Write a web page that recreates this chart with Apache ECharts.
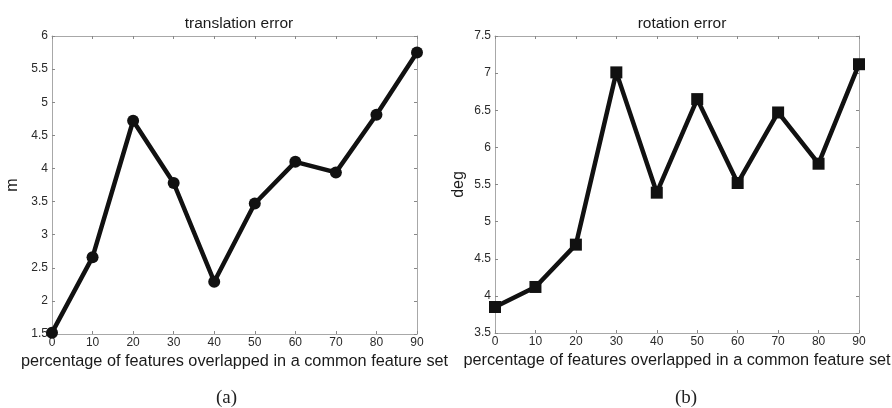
<!DOCTYPE html>
<html>
<head>
<meta charset="utf-8">
<script src="https://cdn.jsdelivr.net/npm/echarts@6/dist/echarts.min.js"></script>
<style>
  html, body { margin: 0; padding: 0; background: #fff; }
  #chart { width: 892px; height: 408px; }
</style>
</head>
<body>
<div id="chart"></div>
<script>
// Overlap percentage (x) shared by both panels
const overlapPct = [0, 10, 20, 30, 40, 50, 60, 70, 80, 90];
// Panel (a): translation error in metres
const translationError = [1.52, 2.66, 4.72, 3.78, 2.29, 3.47, 4.10, 3.94, 4.81, 5.75];
// Panel (b): rotation error in degrees
const rotationError = [3.85, 4.12, 4.69, 7.01, 5.39, 6.65, 5.52, 6.47, 5.78, 7.12];

const panelTitles = ['translation error', 'rotation error'];
const yNames = ['m', 'deg'];
const xName = 'percentage of features overlapped in a common feature set';
const panelTags = ['(a)', '(b)'];

const boxColor = '#a8a8a8';
const labelColor = '#2a2a2a';
const sans = 'Liberation Sans, Arial, sans-serif';

const grids = [
  { left: 52, top: 36, width: 365, height: 298, outerBoundsMode: 'none', containLabel: false },
  { left: 495, top: 36, width: 364, height: 297, outerBoundsMode: 'none', containLabel: false }
];
const yRanges = [
  { min: 1.5, max: 6, interval: 0.5 },
  { min: 3.5, max: 7.5, interval: 0.5 }
];

function xAxes(gi) {
  const base = {
    type: 'value', gridIndex: gi, min: 0, max: 90, interval: 10,
    axisLine: { show: true, onZero: false, lineStyle: { color: boxColor, width: 1 } },
    axisTick: { show: true, inside: true, length: 3, lineStyle: { color: '#888' } },
    splitLine: { show: false }
  };
  return [
    Object.assign({}, base, {
      position: 'bottom',
      axisLabel: { show: true, color: labelColor, fontSize: 12, fontFamily: sans, margin: 3 },
      name: xName, nameLocation: 'middle', nameGap: 19,
      nameTextStyle: { color: '#1a1a1a', fontSize: 16.3, fontFamily: sans }
    }),
    Object.assign({}, base, { position: 'top', axisLabel: { show: false } })
  ];
}

function yAxes(gi) {
  const r = yRanges[gi];
  const base = {
    type: 'value', gridIndex: gi, min: r.min, max: r.max, interval: r.interval,
    axisLine: { show: true, onZero: false, lineStyle: { color: boxColor, width: 1 } },
    axisTick: { show: true, inside: true, length: 3, lineStyle: { color: '#888' } },
    splitLine: { show: false }
  };
  return [
    Object.assign({}, base, {
      position: 'left',
      axisLabel: { show: true, color: labelColor, fontSize: 12, fontFamily: sans, margin: 4 },
      name: yNames[gi], nameLocation: 'middle', nameGap: gi === 0 ? 31 : 28,
      nameTextStyle: { color: '#1a1a1a', fontSize: 16, fontFamily: sans }
    }),
    Object.assign({}, base, { position: 'right', axisLabel: { show: false } })
  ];
}

const option = {
  animation: false,
  backgroundColor: '#fff',
  title: [
    { text: panelTitles[0], left: 234, top: 11, textAlign: 'center',
      textStyle: { fontSize: 15.5, fontWeight: 'normal', color: '#1a1a1a', fontFamily: sans } },
    { text: panelTitles[1], left: 677, top: 11, textAlign: 'center',
      textStyle: { fontSize: 15.5, fontWeight: 'normal', color: '#1a1a1a', fontFamily: sans } }
  ],
  grid: grids,
  xAxis: [...xAxes(0), ...xAxes(1)],
  yAxis: [...yAxes(0), ...yAxes(1)],
  series: [
    {
      type: 'line', xAxisIndex: 0, yAxisIndex: 0,
      data: overlapPct.map((x, i) => [x, translationError[i]]),
      symbol: 'circle', symbolSize: 12,
      lineStyle: { color: '#111', width: 4.5 },
      itemStyle: { color: '#111' }
    },
    {
      type: 'line', xAxisIndex: 2, yAxisIndex: 2,
      data: overlapPct.map((x, i) => [x, rotationError[i]]),
      symbol: 'rect', symbolSize: 12,
      lineStyle: { color: '#111', width: 4.5 },
      itemStyle: { color: '#111' }
    }
  ],
  graphic: [
    { type: 'text', left: 216, top: 389,
      style: { text: panelTags[0], fontSize: 19, fontFamily: 'Liberation Serif, Times New Roman, serif', fill: '#222' } },
    { type: 'text', left: 675, top: 389,
      style: { text: panelTags[1], fontSize: 19, fontFamily: 'Liberation Serif, Times New Roman, serif', fill: '#222' } }
  ]
};

echarts.init(document.getElementById('chart'), null, { renderer: 'canvas' }).setOption(option);
</script>
</body>
</html>
